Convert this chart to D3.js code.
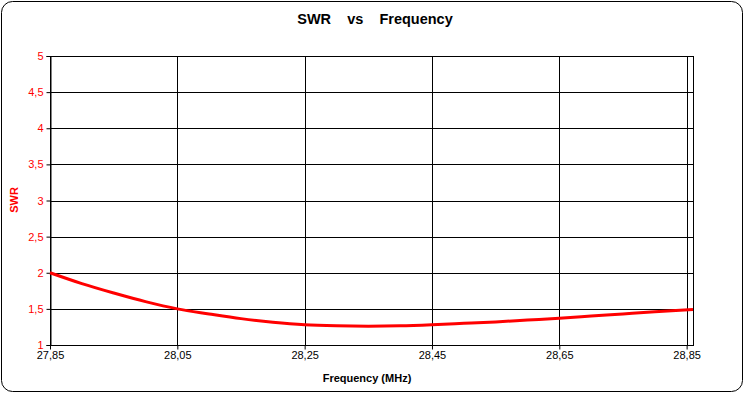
<!DOCTYPE html>
<html><head><meta charset="utf-8">
<script src="https://cdn.jsdelivr.net/npm/d3@7"></script>
<style>body{margin:0;background:#fff}svg{display:block;font-family:"Liberation Sans",Arial,sans-serif}</style>
</head><body><svg id="c" width="744" height="394"></svg>
<script>
const freqs = [27.85,27.90,27.95,28.00,28.05,28.10,28.15,28.20,28.25,28.30,28.35,28.40,28.45,28.50,28.55,28.60,28.65,28.70,28.75,28.80,28.86];
const swr   = [2.00,1.85,1.72,1.60,1.50,1.43,1.365,1.315,1.28,1.265,1.26,1.265,1.28,1.30,1.32,1.345,1.37,1.40,1.43,1.46,1.49];
const xTicks = [27.85,28.05,28.25,28.45,28.65,28.85];
const yTicks = [1,1.5,2,2.5,3,3.5,4,4.5,5];
const fmt = v => String(v).replace('.', ',');

const svg = d3.select('#c');
svg.append('rect').attr('x',1.5).attr('y',1.5).attr('width',741).attr('height',390).attr('rx',11)
  .attr('fill','#fff').attr('stroke','#000').attr('stroke-width',1);

const L=50, R=693, T=56, B=345;
const x = d3.scaleLinear().domain([27.85, 28.86]).range([L, R]);
const y = d3.scaleLinear().domain([1, 5]).range([B, T]);

const g = svg.append('g');
g.selectAll('.hg').data(yTicks).join('line')
  .attr('x1',L).attr('x2',R).attr('y1',d=>Math.round(y(d))+0.5).attr('y2',d=>Math.round(y(d))+0.5)
  .attr('stroke','#000').attr('stroke-width',1);
g.selectAll('.vg').data(xTicks).join('line')
  .attr('y1',T).attr('y2',B).attr('x1',d=>Math.round(x(d))+0.5).attr('x2',d=>Math.round(x(d))+0.5)
  .attr('stroke','#000').attr('stroke-width',1);
g.append('line').attr('x1',R+0.5).attr('x2',R+0.5).attr('y1',T).attr('y2',B).attr('stroke','#000');

const yAxis = d3.axisLeft(y).tickValues(yTicks).tickFormat(fmt).tickSize(4).tickPadding(3);
const ya = svg.append('g').attr('transform',`translate(${L+0.5},0)`).call(yAxis);
ya.select('.domain').attr('stroke','#000');
ya.selectAll('.tick line').attr('stroke','#000');
ya.selectAll('.tick text').attr('fill','#ff0000').style('font-size','11px').style('font-family','"Liberation Sans",Arial,sans-serif');

const xAxis = d3.axisBottom(x).tickValues(xTicks).tickFormat(d=>d3.format('.2f')(d).replace('.',',')).tickSize(4).tickPadding(2);
const xa = svg.append('g').attr('transform',`translate(0,${B+0.5})`).call(xAxis);
xa.select('.domain').attr('d',`M${L},0H${R+1}`).attr('stroke','#000');
xa.selectAll('.tick line').attr('stroke','#000');
xa.selectAll('.tick text').attr('fill','#000').style('font-size','11px').style('font-family','"Liberation Sans",Arial,sans-serif');

const line = d3.line().x((d,i)=>x(freqs[i])).y(d=>y(d)).curve(d3.curveMonotoneX);
svg.append('path').datum(swr).attr('d',line).attr('fill','none').attr('stroke','#ff0000').attr('stroke-width',3);

svg.append('text').attr('x',375).attr('y',24).attr('text-anchor','middle')
  .style('font-size','14.5px').style('font-weight','bold').style('white-space','pre').attr('xml:space','preserve')
  .text('SWR    vs    Frequency');
svg.append('text').attr('x',367).attr('y',382).attr('text-anchor','middle')
  .style('font-size','11px').style('font-weight','bold').text('Frequency (MHz)');
svg.append('text').attr('transform','translate(18,200) rotate(-90)').attr('text-anchor','middle')
  .attr('fill','#ff0000').style('font-size','11px').style('font-weight','bold').text('SWR');
</script></body></html>
